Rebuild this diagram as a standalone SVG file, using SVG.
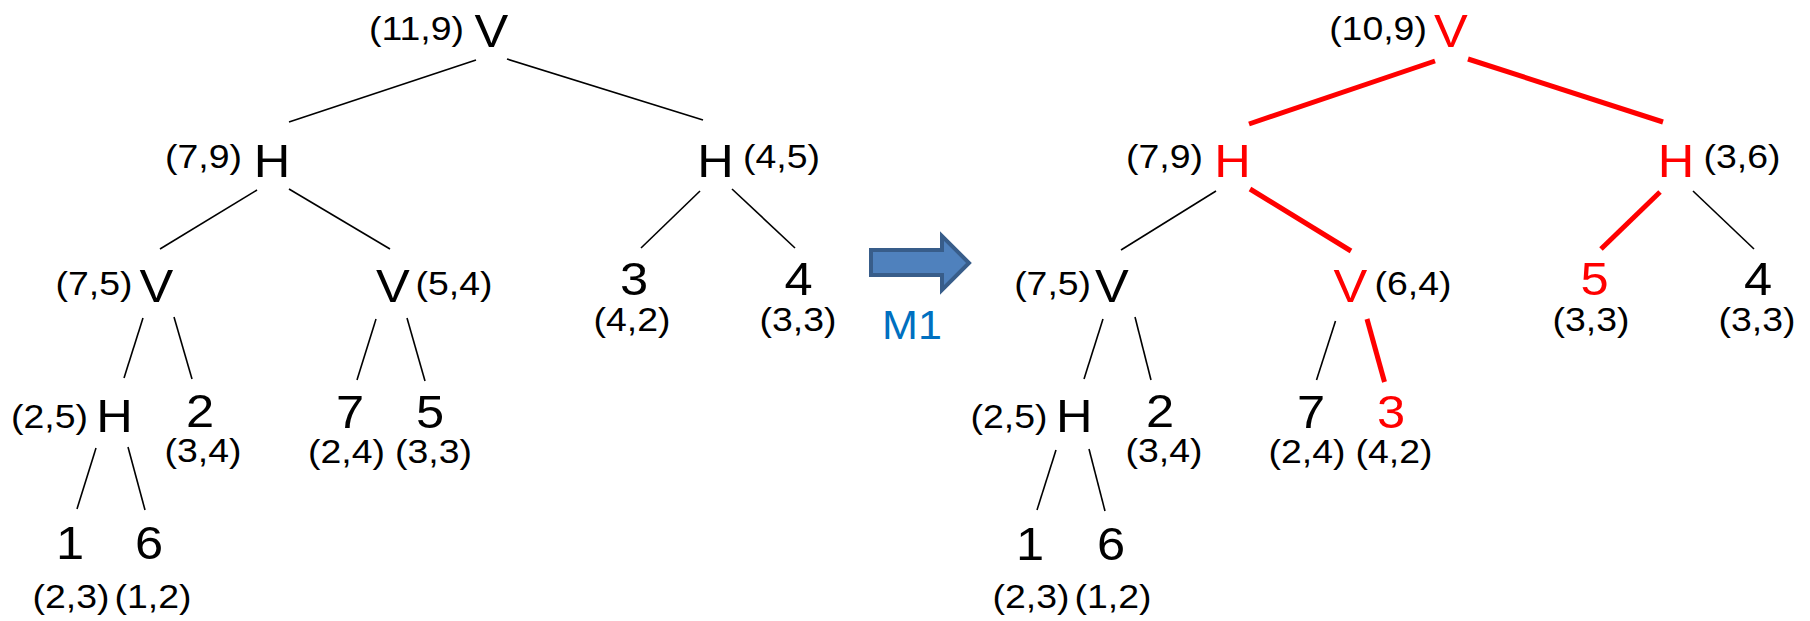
<svg xmlns="http://www.w3.org/2000/svg" width="1810" height="621" viewBox="0 0 1810 621">
  <style>
    text { font-family: "Liberation Sans", Arial, sans-serif; text-anchor: middle; transform-box: fill-box; transform-origin: center; transform: scaleX(1.1); }
    .big { font-size: 46px; }
    .sm { font-size: 34px; }
    .red { fill: #FF0000; }
    .edge { stroke: #000; stroke-width: 1.6; fill: none; }
    .edge.hot { stroke: #FF0000; stroke-width: 5; }
    .m1 { font-size: 41px; fill: #0070C0; transform: scaleX(1.05); }
  </style>
  <rect width="1810" height="621" fill="#fff"/>

  <!-- tree edges -->
  <g id="connectors">
    <!-- left tree -->
    <line class="edge" x1="476" y1="60" x2="289" y2="122"/>
    <line class="edge" x1="507" y1="59" x2="703" y2="120"/>
    <line class="edge" x1="257" y1="190" x2="160" y2="249"/>
    <line class="edge" x1="289" y1="189" x2="390" y2="249"/>
    <line class="edge" x1="700" y1="191" x2="641" y2="248"/>
    <line class="edge" x1="732" y1="189" x2="795" y2="248"/>
    <line class="edge" x1="143" y1="318" x2="124" y2="378"/>
    <line class="edge" x1="174" y1="317" x2="192" y2="379"/>
    <line class="edge" x1="376" y1="319" x2="357" y2="380"/>
    <line class="edge" x1="407" y1="318" x2="425" y2="381"/>
    <line class="edge" x1="96" y1="448" x2="77" y2="509"/>
    <line class="edge" x1="128" y1="447" x2="145" y2="510"/>
    <!-- right tree -->
    <line class="edge hot" x1="1435" y1="61" x2="1249" y2="124"/>
    <line class="edge hot" x1="1468" y1="59" x2="1663" y2="122"/>
    <line class="edge" x1="1216" y1="191" x2="1121" y2="250"/>
    <line class="edge hot" x1="1250" y1="189" x2="1351" y2="251"/>
    <line class="edge hot" x1="1660" y1="192" x2="1601" y2="249"/>
    <line class="edge" x1="1693" y1="191" x2="1754" y2="249"/>
    <line class="edge" x1="1103" y1="319" x2="1084" y2="379"/>
    <line class="edge" x1="1135" y1="317" x2="1151" y2="380"/>
    <line class="edge" x1="1335.5" y1="321" x2="1316.5" y2="380"/>
    <line class="edge hot" x1="1367" y1="319" x2="1384.5" y2="382"/>
    <line class="edge" x1="1056" y1="450" x2="1037" y2="510"/>
    <line class="edge" x1="1089" y1="449" x2="1105" y2="511"/>
  </g>

  <!-- left tree nodes -->
  <g id="L-root"><text class="sm" x="416.5" y="40">(11,9)</text><text class="big" x="491.5" y="47">V</text></g>
  <g id="L-H1"><text class="sm" x="203.5" y="168">(7,9)</text><text class="big" x="272" y="177">H</text></g>
  <g id="L-H2"><text class="big" x="715.5" y="177">H</text><text class="sm" x="781.5" y="168">(4,5)</text></g>
  <g id="L-V1"><text class="sm" x="94" y="295">(7,5)</text><text class="big" x="156.5" y="302">V</text></g>
  <g id="L-V2"><text class="big" x="393" y="302">V</text><text class="sm" x="454" y="295">(5,4)</text></g>
  <g id="L-3"><text class="big" x="634" y="295">3</text><text class="sm" x="632" y="331">(4,2)</text></g>
  <g id="L-4"><text class="big" x="798.5" y="295">4</text><text class="sm" x="798" y="331">(3,3)</text></g>
  <g id="L-H3"><text class="sm" x="49.5" y="428">(2,5)</text><text class="big" x="114.5" y="432">H</text></g>
  <g id="L-2"><text class="big" x="200" y="427">2</text><text class="sm" x="203" y="462">(3,4)</text></g>
  <g id="L-7"><text class="big" x="350" y="428">7</text><text class="sm" x="346.5" y="463">(2,4)</text></g>
  <g id="L-5"><text class="big" x="430" y="428">5</text><text class="sm" x="433.5" y="463">(3,3)</text></g>
  <g id="L-1"><text class="big" x="70" y="559">1</text><text class="sm" x="71" y="608">(2,3)</text></g>
  <g id="L-6"><text class="big" x="149" y="559">6</text><text class="sm" x="153" y="608">(1,2)</text></g>

  <!-- move arrow -->
  <g id="move-M1">
    <polygon points="871,250 942,250 942,236 969,263 942,290 942,275 871,275" fill="#4F81BD" stroke="#385D8A" stroke-width="4" stroke-linejoin="miter"/>
    <text class="m1" x="912" y="339">M1</text>
  </g>

  <!-- right tree nodes -->
  <g id="R-root"><text class="sm" x="1378" y="40">(10,9)</text><text class="big red" x="1451" y="47">V</text></g>
  <g id="R-H1"><text class="sm" x="1164.5" y="168">(7,9)</text><text class="big red" x="1232.5" y="177">H</text></g>
  <g id="R-H2"><text class="big red" x="1676" y="177">H</text><text class="sm" x="1742" y="168">(3,6)</text></g>
  <g id="R-V1"><text class="sm" x="1052.6" y="295">(7,5)</text><text class="big" x="1112" y="302">V</text></g>
  <g id="R-V2"><text class="big red" x="1350.5" y="302">V</text><text class="sm" x="1413" y="295">(6,4)</text></g>
  <g id="R-5"><text class="big red" x="1594.5" y="295">5</text><text class="sm" x="1591" y="331">(3,3)</text></g>
  <g id="R-4"><text class="big" x="1758" y="295">4</text><text class="sm" x="1757" y="331">(3,3)</text></g>
  <g id="R-H3"><text class="sm" x="1009" y="428">(2,5)</text><text class="big" x="1074.4" y="432">H</text></g>
  <g id="R-2"><text class="big" x="1160" y="427">2</text><text class="sm" x="1164" y="462">(3,4)</text></g>
  <g id="R-7"><text class="big" x="1311" y="428">7</text><text class="sm" x="1307" y="463">(2,4)</text></g>
  <g id="R-3"><text class="big red" x="1391" y="428">3</text><text class="sm" x="1394" y="463">(4,2)</text></g>
  <g id="R-1"><text class="big" x="1030" y="560">1</text><text class="sm" x="1031" y="608">(2,3)</text></g>
  <g id="R-6"><text class="big" x="1111" y="560">6</text><text class="sm" x="1113" y="608">(1,2)</text></g>
</svg>
